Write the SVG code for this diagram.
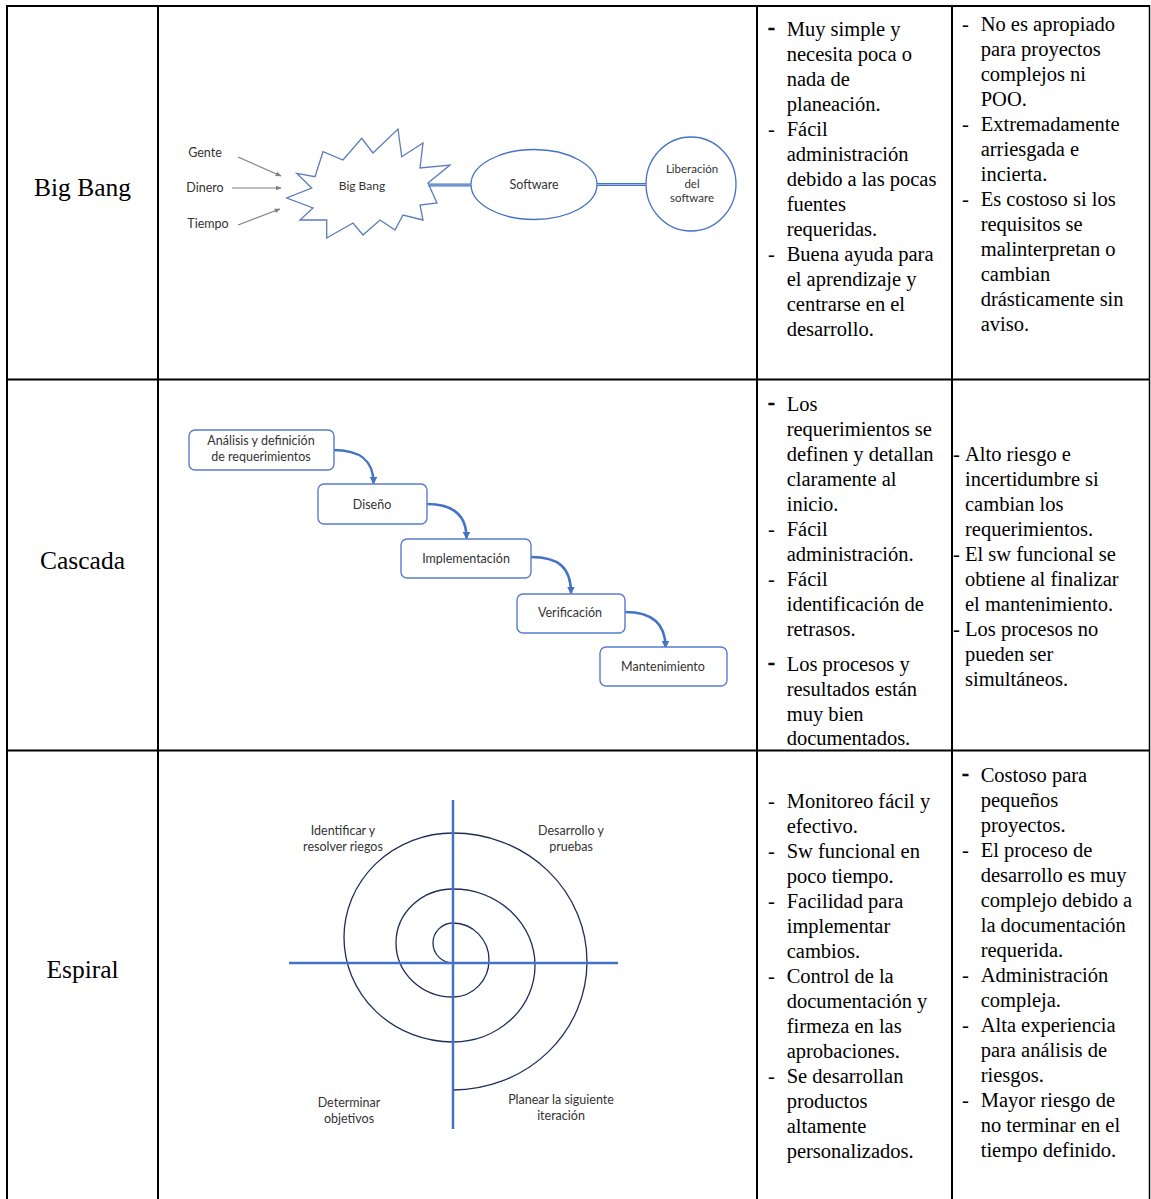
<svg xmlns="http://www.w3.org/2000/svg" width="1151" height="1199" viewBox="0 0 1151 1199">
<style>
.grid{stroke:#000;stroke-width:2;fill:none}
.t{font-family:"Liberation Serif","Times New Roman",serif;font-size:20.5px;fill:#000}
.lbl{font-family:"Liberation Serif","Times New Roman",serif;font-size:25.5px;fill:#000;text-anchor:middle}
.d{font-family:Lato,"Open Sans",sans-serif;font-size:12.5px;fill:#333;text-anchor:middle}
.b{font-weight:bold;stroke:#000;stroke-width:0.7}
.box{fill:#fff;stroke:#5a7bd0;stroke-width:1.4}
.blue{stroke:#4472c4;fill:none}
.cas{stroke:#4472c4;stroke-width:2.5;fill:none;marker-end:url(#ab)}
.gray{stroke:#808080;stroke-width:1.2;fill:none;marker-end:url(#ag)}
</style>
<defs>
<marker id="ab" viewBox="0 0 10 10" refX="8" refY="5" markerWidth="3" markerHeight="3" orient="auto"><path d="M0,0 L10,5 L0,10 z" fill="#4472c4"/></marker>
<marker id="ag" viewBox="0 0 10 10" refX="9" refY="5" markerWidth="5" markerHeight="5" orient="auto"><path d="M0,1 L10,5 L0,9 z" fill="#808080"/></marker>
</defs>
<rect width="1151" height="1199" fill="#fff"/>

<g id="table">
<line class="grid" x1="7" y1="6" x2="1149" y2="6"/>
<line class="grid" x1="7" y1="5" x2="7" y2="1199"/>
<line class="grid" x1="158" y1="5" x2="158" y2="1199"/>
<line class="grid" x1="757" y1="5" x2="757" y2="1199"/>
<line class="grid" x1="952" y1="5" x2="952" y2="1199"/>
<line x1="1149.5" y1="5" x2="1149.5" y2="1199" stroke="#000" stroke-width="1.5"/>
<line class="grid" x1="7" y1="379.5" x2="1149" y2="379.5"/>
<line class="grid" x1="7" y1="750.5" x2="1149" y2="750.5"/>
</g>

<g id="row-labels">
<text class="lbl" x="82.5" y="196">Big Bang</text>
<text class="lbl" x="82.5" y="569">Cascada</text>
<text class="lbl" x="82.5" y="978">Espiral</text>
</g>

<g id="bigbang-diagram">
<g id="bb-inputs">
<text class="d" x="205" y="157">Gente</text>
<text class="d" x="205" y="192">Dinero</text>
<text class="d" x="208" y="228">Tiempo</text>
</g>
<g id="bb-star">
<polygon points="296.7,173.3 315,176.7 323,151.7 343,160 361.7,138.3 373,153 398,129 401.7,156.7 423,143 420,168 450,165 428,183 437,203 420,205 423,220 403,215 395,230 380,220 363,235 353,223 326.7,238 326.7,220 300,220 313,208 286.7,198 311.7,188" fill="#fff" stroke="#5b7bbf" stroke-width="1.3" stroke-linejoin="miter"/>
<text class="d" x="362" y="190" style="font-size:12px">Big Bang</text>
</g>
<g id="bb-software">
<ellipse cx="534" cy="184.5" rx="63" ry="35" fill="#fff" stroke="#4472c4" stroke-width="1.3"/>
<text class="d" x="534" y="189">Software</text>
</g>
<g id="bb-release">
<ellipse cx="691" cy="184" rx="45" ry="47" fill="#fff" stroke="#4472c4" stroke-width="1.3"/>
<text class="d" x="692" y="173" style="font-size:11.5px">Liberación</text>
<text class="d" x="692" y="188" style="font-size:11.5px">del</text>
<text class="d" x="692" y="202" style="font-size:11.5px">software</text>
</g>
</g>

<g id="connectors">
<path class="gray" d="M238,157 L281,176"/>
<path class="gray" d="M232,188 L281,188"/>
<path class="gray" d="M238,225 L280,209"/>
<line x1="428" y1="185" x2="471" y2="185" stroke="#4472c4" stroke-width="3.2"/>
<line x1="428" y1="185" x2="471" y2="185" stroke="#b8c8ea" stroke-width="0.8"/>
<line x1="597" y1="184.5" x2="646" y2="184.5" stroke="#4472c4" stroke-width="3.2"/>
<line x1="597" y1="184.5" x2="646" y2="184.5" stroke="#b8c8ea" stroke-width="0.8"/>
<path class="cas" d="M333,450 C360,450 373.5,460 373.5,483"/>
<path class="cas" d="M427,504 C452,504 466.5,514 466.5,538"/>
<path class="cas" d="M531,557 C558,557 571,567 571,593"/>
<path class="cas" d="M625,612 C650,612 665.5,622 665.5,647"/>
</g>

<g id="cascada-diagram">
<g id="c-analisis"><rect class="box" x="189" y="430" width="145" height="40" rx="6"/>
<text class="d" x="261" y="445">Análisis y definición</text><text class="d" x="261" y="461">de requerimientos</text></g>
<g id="c-diseno"><rect class="box" x="318" y="484" width="109" height="40" rx="6"/>
<text class="d" x="372" y="509">Diseño</text></g>
<g id="c-impl"><rect class="box" x="401" y="539" width="130" height="39" rx="6"/>
<text class="d" x="466" y="563">Implementación</text></g>
<g id="c-verif"><rect class="box" x="517" y="594" width="108" height="39" rx="6"/>
<text class="d" x="570" y="617">Verificación</text></g>
<g id="c-mant"><rect class="box" x="600" y="647" width="127" height="39" rx="6"/>
<text class="d" x="663" y="671">Mantenimiento</text></g>
</g>

<g id="espiral-diagram">
<path d="M453,963 A20,20 0 0 1 453,923 A36,37 0 0 1 453,997 A57,54 0 0 1 453,889 A82,76.5 0 0 1 453,1042 A109,104.5 0 0 1 453,833 A134,128.5 0 0 1 453,1090" fill="none" stroke="#1f2d5a" stroke-width="1.3"/>
<line class="blue" x1="453" y1="800" x2="453" y2="1129" stroke-width="2.5"/>
<line class="blue" x1="289" y1="963" x2="618" y2="963" stroke-width="2.5"/>
<text class="d" x="343" y="835">Identificar y</text><text class="d" x="343" y="851">resolver riegos</text>
<text class="d" x="571" y="835">Desarrollo y</text><text class="d" x="571" y="851">pruebas</text>
<text class="d" x="349" y="1107">Determinar</text><text class="d" x="349" y="1123">objetivos</text>
<text class="d" x="561" y="1104">Planear la siguiente</text><text class="d" x="561" y="1120">iteración</text>
</g>

<g id="bb-ventajas">
<text x="768" y="34" class="t b">-</text><text x="786.7" y="36" class="t">Muy simple y</text>
<text x="786.7" y="61" class="t">necesita poca o</text>
<text x="786.7" y="86" class="t">nada de</text>
<text x="786.7" y="111" class="t">planeación.</text>
<text x="768" y="136" class="t">-</text><text x="786.7" y="136" class="t">Fácil</text>
<text x="786.7" y="161" class="t">administración</text>
<text x="786.7" y="186" class="t">debido a las pocas</text>
<text x="786.7" y="211" class="t">fuentes</text>
<text x="786.7" y="236" class="t">requeridas.</text>
<text x="768" y="261" class="t">-</text><text x="786.7" y="261" class="t">Buena ayuda para</text>
<text x="786.7" y="286" class="t">el aprendizaje y</text>
<text x="786.7" y="311" class="t">centrarse en el</text>
<text x="786.7" y="336" class="t">desarrollo.</text>
</g>
<g id="bb-desventajas">
<text x="962" y="31" class="t">-</text><text x="980.7" y="31" class="t">No es apropiado</text>
<text x="980.7" y="56" class="t">para proyectos</text>
<text x="980.7" y="81" class="t">complejos ni</text>
<text x="980.7" y="106" class="t">POO.</text>
<text x="962" y="131" class="t">-</text><text x="980.7" y="131" class="t">Extremadamente</text>
<text x="980.7" y="156" class="t">arriesgada e</text>
<text x="980.7" y="181" class="t">incierta.</text>
<text x="962" y="206" class="t">-</text><text x="980.7" y="206" class="t">Es costoso si los</text>
<text x="980.7" y="231" class="t">requisitos se</text>
<text x="980.7" y="256" class="t">malinterpretan o</text>
<text x="980.7" y="281" class="t">cambian</text>
<text x="980.7" y="306" class="t">drásticamente sin</text>
<text x="980.7" y="331" class="t">aviso.</text>
</g>

<g id="cas-ventajas">
<text x="768" y="409" class="t b">-</text><text x="786.7" y="411" class="t">Los</text>
<text x="786.7" y="436" class="t">requerimientos se</text>
<text x="786.7" y="461" class="t">definen y detallan</text>
<text x="786.7" y="486" class="t">claramente al</text>
<text x="786.7" y="511" class="t">inicio.</text>
<text x="768" y="536" class="t">-</text><text x="786.7" y="536" class="t">Fácil</text>
<text x="786.7" y="561" class="t">administración.</text>
<text x="768" y="586" class="t">-</text><text x="786.7" y="586" class="t">Fácil</text>
<text x="786.7" y="611" class="t">identificación de</text>
<text x="786.7" y="636" class="t">retrasos.</text>
<text x="768" y="669" class="t b">-</text><text x="786.7" y="671" class="t">Los procesos y</text>
<text x="786.7" y="696" class="t">resultados están</text>
<text x="786.7" y="721" class="t">muy bien</text>
<text x="786.7" y="745" class="t">documentados.</text>
</g>
<g id="cas-desventajas">
<text x="953" y="461" class="t">-</text><text x="965" y="461" class="t">Alto riesgo e</text>
<text x="965" y="486" class="t">incertidumbre si</text>
<text x="965" y="511" class="t">cambian los</text>
<text x="965" y="536" class="t">requerimientos.</text>
<text x="953" y="561" class="t">-</text><text x="965" y="561" class="t">El sw funcional se</text>
<text x="965" y="586" class="t">obtiene al finalizar</text>
<text x="965" y="611" class="t">el mantenimiento.</text>
<text x="953" y="636" class="t">-</text><text x="965" y="636" class="t">Los procesos no</text>
<text x="965" y="661" class="t">pueden ser</text>
<text x="965" y="686" class="t">simultáneos.</text>
</g>

<g id="esp-ventajas">
<text x="768" y="808" class="t">-</text><text x="786.7" y="808" class="t">Monitoreo fácil y</text>
<text x="786.7" y="833" class="t">efectivo.</text>
<text x="768" y="858" class="t">-</text><text x="786.7" y="858" class="t">Sw funcional en</text>
<text x="786.7" y="883" class="t">poco tiempo.</text>
<text x="768" y="908" class="t">-</text><text x="786.7" y="908" class="t">Facilidad para</text>
<text x="786.7" y="933" class="t">implementar</text>
<text x="786.7" y="958" class="t">cambios.</text>
<text x="768" y="983" class="t">-</text><text x="786.7" y="983" class="t">Control de la</text>
<text x="786.7" y="1008" class="t">documentación y</text>
<text x="786.7" y="1033" class="t">firmeza en las</text>
<text x="786.7" y="1058" class="t">aprobaciones.</text>
<text x="768" y="1083" class="t">-</text><text x="786.7" y="1083" class="t">Se desarrollan</text>
<text x="786.7" y="1108" class="t">productos</text>
<text x="786.7" y="1133" class="t">altamente</text>
<text x="786.7" y="1158" class="t">personalizados.</text>
</g>
<g id="esp-desventajas">
<text x="962" y="780" class="t b">-</text><text x="980.7" y="782" class="t">Costoso para</text>
<text x="980.7" y="807" class="t">pequeños</text>
<text x="980.7" y="832" class="t">proyectos.</text>
<text x="962" y="857" class="t">-</text><text x="980.7" y="857" class="t">El proceso de</text>
<text x="980.7" y="882" class="t">desarrollo es muy</text>
<text x="980.7" y="907" class="t">complejo debido a</text>
<text x="980.7" y="932" class="t">la documentación</text>
<text x="980.7" y="957" class="t">requerida.</text>
<text x="962" y="982" class="t">-</text><text x="980.7" y="982" class="t">Administración</text>
<text x="980.7" y="1007" class="t">compleja.</text>
<text x="962" y="1032" class="t">-</text><text x="980.7" y="1032" class="t">Alta experiencia</text>
<text x="980.7" y="1057" class="t">para análisis de</text>
<text x="980.7" y="1082" class="t">riesgos.</text>
<text x="962" y="1107" class="t">-</text><text x="980.7" y="1107" class="t">Mayor riesgo de</text>
<text x="980.7" y="1132" class="t">no terminar en el</text>
<text x="980.7" y="1157" class="t">tiempo definido.</text>
</g>
</svg>
